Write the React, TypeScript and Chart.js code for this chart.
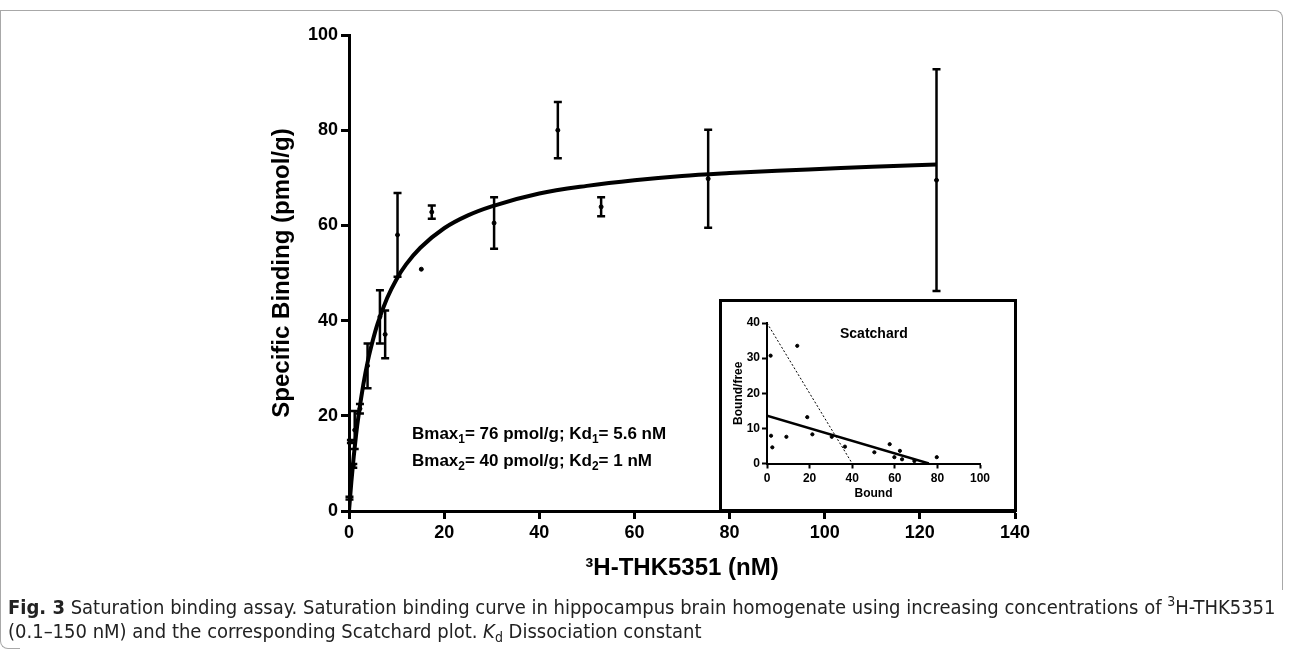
import React, { useEffect, useRef } from "react";
import { Chart, registerables } from "chart.js";

Chart.register(...registerables);

// ---- Saturation binding data (nM, pmol/g, SEM) ----
const satX = [0.1, 0.9, 0.4, 1.2, 2.3, 3.9, 6.5, 7.6, 10.2, 15.2, 17.4, 30.5, 43.9, 53.0, 75.5, 123.5];
const satY = [2.7, 9.5, 14.6, 17.0, 21.5, 30.5, 40.8, 37.1, 58.0, 50.8, 62.8, 60.5, 80.0, 63.9, 69.8, 69.5];
const satErr = [0.3, 0.4, 0.3, 4.0, 1.0, 4.7, 5.6, 5.0, 8.8, 0, 1.4, 5.4, 5.9, 2.0, 10.3, 23.3];

// ---- Fitted saturation curve ----
const fitX = [0, 0.5, 1, 1.5, 2, 3, 4, 5, 6, 8, 10, 12, 15, 20, 25, 30, 40, 50, 60, 70, 80, 90, 100, 110, 123.5];
const fitY = [0, 6.2, 11.5, 16.1, 20.0, 26.5, 31.7, 35.8, 39.3, 44.7, 48.7, 51.8, 55.3, 59.4, 62.1, 64.0, 66.7, 68.3, 69.5, 70.4, 71.0, 71.5, 71.9, 72.3, 72.8];

// ---- Main axes ticks ----
const xTickVals = [0, 20, 40, 60, 80, 100, 120, 140];
const yTickVals = [0, 20, 40, 60, 80, 100];

// ---- Scatchard inset data ----
const boundVals = [1.7, 14.2, 1.9, 2.5, 9.1, 18.9, 21.3, 30.4, 36.6, 50.4, 57.6, 59.8, 62.4, 63.4, 69.2, 79.7];
const bfVals = [30.7, 33.5, 7.9, 4.6, 7.6, 13.2, 8.3, 7.6, 4.8, 3.2, 5.5, 1.8, 3.6, 1.2, 0.7, 1.8];
const site1X = [0, 76];
const site1Y = [13.6, 0];
const site2X = [0, 40];
const site2Y = [40, 0];
const insetXTicks = [0, 20, 40, 60, 80, 100];
const insetYTicks = [0, 10, 20, 30, 40];

const FONT = "'Liberation Sans', Arial, Helvetica, sans-serif";

const W = 1290;
const H = 600;
const PLOT_L = 349;
const PLOT_R = 1015;
const PLOT_T = 35;
const PLOT_B = 511;

const INSET_L = 719;
const INSET_T = 299;
const INSET_W = 298;
const INSET_H = 213;

const errorBarPlugin = {
  id: "errorBars",
  afterDatasetsDraw(chart: any) {
    const xs = chart.scales.x;
    const ys = chart.scales.y;
    const ctx = chart.ctx;
    ctx.save();
    ctx.strokeStyle = "#000";
    ctx.lineWidth = 2.5;
    chart.data.datasets.forEach((ds: any) => {
      if (!ds.errors) return;
      ds.data.forEach((p: any, i: number) => {
        const e = ds.errors[i];
        if (!e) return;
        const px = xs.getPixelForValue(p.x);
        const top = ys.getPixelForValue(p.y + e);
        const bot = ys.getPixelForValue(p.y - e);
        ctx.beginPath();
        ctx.moveTo(px, top);
        ctx.lineTo(px, bot);
        ctx.moveTo(px - 4, top);
        ctx.lineTo(px + 4, top);
        ctx.moveTo(px - 4, bot);
        ctx.lineTo(px + 4, bot);
        ctx.stroke();
      });
    });
    ctx.restore();
  },
};

const insetFramePlugin = {
  id: "insetFrame",
  beforeDraw(chart: any) {
    const ctx = chart.ctx;
    ctx.save();
    ctx.fillStyle = "#fff";
    ctx.fillRect(0, 0, chart.width, chart.height);
    ctx.restore();
  },
  afterDraw(chart: any) {
    const ctx = chart.ctx;
    ctx.save();
    ctx.strokeStyle = "#000";
    ctx.lineWidth = 3;
    ctx.strokeRect(1.5, 1.5, chart.width - 3, chart.height - 3);
    ctx.restore();
  },
};

function MainChart() {
  const ref = useRef<HTMLCanvasElement | null>(null);
  useEffect(() => {
    if (!ref.current) return;
    const tickFont = { family: FONT, size: 18, weight: "bold" as const };
    const chart = new Chart(ref.current, {
      type: "scatter",
      data: {
        datasets: [
          {
            type: "line",
            data: fitX.map((x, i) => ({ x, y: fitY[i] })),
            borderColor: "#000",
            borderWidth: 4,
            pointRadius: 0,
            cubicInterpolationMode: "monotone",
            fill: false,
          } as any,
          {
            type: "scatter",
            data: satX.map((x, i) => ({ x, y: satY[i] })),
            backgroundColor: "#000",
            borderColor: "#000",
            pointRadius: 2,
            errors: satErr,
          } as any,
        ],
      },
      options: {
        animation: false,
        responsive: false,
        maintainAspectRatio: false,
        layout: { padding: { left: 0, right: W - PLOT_R, top: PLOT_T, bottom: 0 } },
        plugins: { legend: { display: false }, tooltip: { enabled: false } },
        scales: {
          x: {
            type: "linear",
            min: 0,
            max: 140,
            afterBuildTicks: (s: any) => {
              s.ticks = xTickVals.map((v) => ({ value: v }));
            },
            afterFit: (s: any) => {
              s.height = H - PLOT_B;
            },
            ticks: { font: tickFont, color: "#000", padding: 3, maxRotation: 0 },
            grid: { drawOnChartArea: false, drawTicks: true, tickLength: 8, tickWidth: 3, tickColor: "#000" },
            border: { display: true, width: 3, color: "#000" },
            title: {
              display: true,
              text: "³H-THK5351 (nM)",
              font: { family: FONT, size: 24, weight: "bold" },
              color: "#000",
              padding: { top: 0, bottom: 17 },
            },
          },
          y: {
            type: "linear",
            min: 0,
            max: 100,
            afterBuildTicks: (s: any) => {
              s.ticks = yTickVals.map((v) => ({ value: v }));
            },
            afterFit: (s: any) => {
              s.width = PLOT_L;
            },
            ticks: { font: tickFont, color: "#000", padding: 3 },
            grid: { drawOnChartArea: false, drawTicks: true, tickLength: 8, tickWidth: 3, tickColor: "#000" },
            border: { display: true, width: 3, color: "#000" },
            title: {
              display: true,
              text: "Specific Binding (pmol/g)",
              font: { family: FONT, size: 24, weight: "bold" },
              color: "#000",
              padding: { top: 268, bottom: 0 },
            },
          },
        },
      } as any,
      plugins: [errorBarPlugin],
    });
    return () => chart.destroy();
  }, []);
  return (
    <canvas
      ref={ref}
      width={W}
      height={H}
      style={{ position: "absolute", left: 0, top: 0, width: W, height: H }}
    />
  );
}

function InsetChart() {
  const ref = useRef<HTMLCanvasElement | null>(null);
  useEffect(() => {
    if (!ref.current) return;
    const tickFont = { family: FONT, size: 12, weight: "bold" as const };
    const chart = new Chart(ref.current, {
      type: "scatter",
      data: {
        datasets: [
          {
            type: "line",
            data: site2X.map((x, i) => ({ x, y: site2Y[i] })),
            borderColor: "#000",
            borderWidth: 1,
            borderDash: [2, 2],
            pointRadius: 0,
            fill: false,
          } as any,
          {
            type: "line",
            data: site1X.map((x, i) => ({ x, y: site1Y[i] })),
            borderColor: "#000",
            borderWidth: 2.5,
            pointRadius: 0,
            fill: false,
          } as any,
          {
            type: "scatter",
            data: boundVals.map((x, i) => ({ x, y: bfVals[i] })),
            backgroundColor: "#000",
            borderColor: "#000",
            pointRadius: 1.6,
          } as any,
        ],
      },
      options: {
        animation: false,
        responsive: false,
        maintainAspectRatio: false,
        layout: { padding: { left: 0, right: INSET_W - 261, top: 24, bottom: 0 } },
        plugins: { legend: { display: false }, tooltip: { enabled: false } },
        scales: {
          x: {
            type: "linear",
            min: 0,
            max: 100,
            afterBuildTicks: (s: any) => {
              s.ticks = insetXTicks.map((v) => ({ value: v }));
            },
            afterFit: (s: any) => {
              s.height = INSET_H - 164.5;
            },
            ticks: { font: tickFont, color: "#000", padding: 3, maxRotation: 0 },
            grid: { drawOnChartArea: false, drawTicks: true, tickLength: 5, tickWidth: 2, tickColor: "#000" },
            border: { display: true, width: 2, color: "#000" },
            title: {
              display: true,
              text: "Bound",
              font: { family: FONT, size: 12, weight: "bold" },
              color: "#000",
              padding: { top: 0, bottom: 11 },
            },
          },
          y: {
            type: "linear",
            min: 0,
            max: 40,
            afterBuildTicks: (s: any) => {
              s.ticks = insetYTicks.map((v) => ({ value: v }));
            },
            afterFit: (s: any) => {
              s.width = 48;
            },
            ticks: { font: tickFont, color: "#000", padding: 2 },
            grid: { drawOnChartArea: false, drawTicks: true, tickLength: 5, tickWidth: 2, tickColor: "#000" },
            border: { display: true, width: 2, color: "#000" },
            title: {
              display: true,
              text: "Bound/free",
              font: { family: FONT, size: 12, weight: "bold" },
              color: "#000",
              padding: { top: 12, bottom: 0 },
            },
          },
        },
      } as any,
      plugins: [insetFramePlugin],
    });
    return () => chart.destroy();
  }, []);
  return (
    <canvas
      ref={ref}
      width={INSET_W}
      height={INSET_H}
      style={{ position: "absolute", left: INSET_L, top: INSET_T, width: INSET_W, height: INSET_H }}
    />
  );
}

const supStyle: React.CSSProperties = { fontSize: "0.7em", verticalAlign: "0.55em", lineHeight: 0 };
const subStyle: React.CSSProperties = { fontSize: "0.7em", verticalAlign: "-0.3em", lineHeight: 0 };

export default function App() {
  return (
    <div
      style={{
        position: "absolute",
        left: 0,
        top: 0,
        width: W,
        height: 651,
        background: "#fff",
        overflow: "hidden",
      }}
    >
      {/* figure frame */}
      <div
        style={{
          position: "absolute",
          left: 0,
          top: 10,
          width: 1283,
          height: 580,
          borderTop: "1px solid #a8a8a8",
          borderRight: "1px solid #a8a8a8",
          borderLeft: "1px solid #a8a8a8",
          borderTopRightRadius: 8,
          boxSizing: "border-box",
        }}
      />
      <div
        style={{
          position: "absolute",
          left: 0,
          top: 589,
          width: 20,
          height: 60,
          borderLeft: "1px solid #a8a8a8",
          borderBottom: "1px solid #a8a8a8",
          borderBottomLeftRadius: 8,
          boxSizing: "border-box",
        }}
      />
      <MainChart />
      <InsetChart />
      {/* fit parameters annotation */}
      <div
        style={{
          position: "absolute",
          left: 412,
          top: 420,
          fontFamily: FONT,
          fontWeight: "bold",
          fontSize: 17,
          lineHeight: "27px",
          color: "#000",
          whiteSpace: "nowrap",
        }}
      >
        <div>
          Bmax<span style={subStyle}>1</span>= 76 pmol/g; Kd<span style={subStyle}>1</span>= 5.6 nM
        </div>
        <div>
          Bmax<span style={subStyle}>2</span>= 40 pmol/g; Kd<span style={subStyle}>2</span>= 1 nM
        </div>
      </div>
      {/* inset title */}
      <div
        style={{
          position: "absolute",
          left: 840,
          top: 324,
          fontFamily: FONT,
          fontWeight: "bold",
          fontSize: 14,
          lineHeight: "18px",
          color: "#000",
        }}
      >
        Scatchard
      </div>
      {/* caption */}
      <div
        style={{
          position: "absolute",
          left: 8,
          top: 595,
          fontFamily: "'Liberation Sans Narrow', 'DejaVu Sans', sans-serif",
          fontStretch: "condensed",
          fontSize: 20,
          lineHeight: "24px",
          color: "#222",
          whiteSpace: "nowrap",
        }}
      >
        <b>Fig. 3</b> Saturation binding assay. Saturation binding curve in hippocampus brain homogenate using
        increasing concentrations of <span style={supStyle}>3</span>H-THK5351
        <br />
        (0.1–150 nM) and the corresponding Scatchard plot. <i>K</i>
        <span style={subStyle}>d</span> Dissociation constant
      </div>
    </div>
  );
}
